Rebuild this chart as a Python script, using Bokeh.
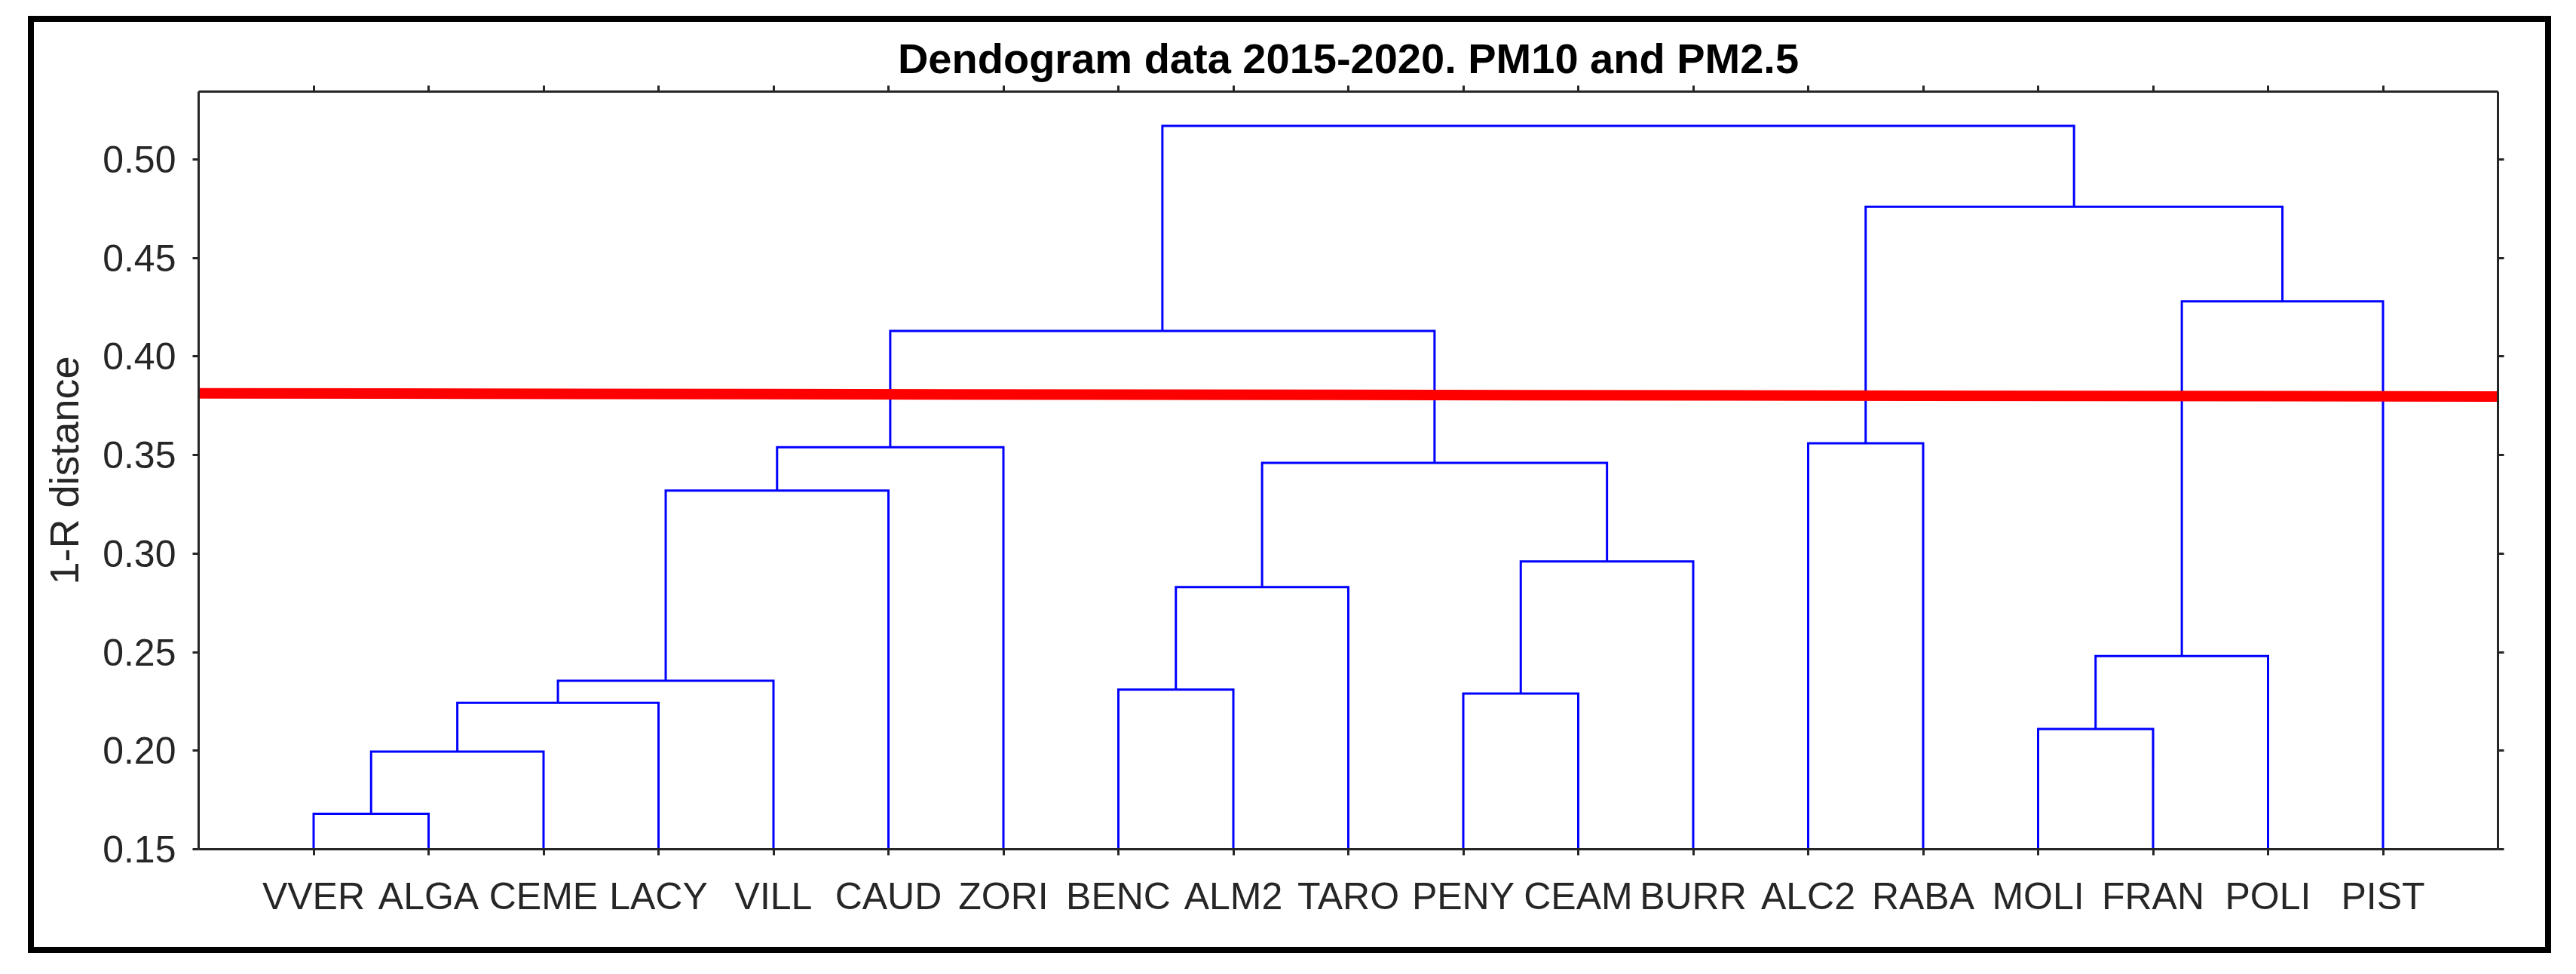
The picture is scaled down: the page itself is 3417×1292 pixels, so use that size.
from bokeh.plotting import figure
from bokeh.models import Range1d, LinearAxis, FixedTicker, PrintfTickFormatter
from bokeh.embed import file_html
from bokeh.resources import INLINE

# ---------------- data ----------------
leaves = ["VVER", "ALGA", "CEME", "LACY", "VILL", "CAUD", "ZORI", "BENC", "ALM2", "TARO",
          "PENY", "CEAM", "BURR", "ALC2", "RABA", "MOLI", "FRAN", "POLI", "PIST"]
# linkage: cluster ids < 19 are leaves, id 19+k is the k-th merge
merge_a = [0, 19, 20, 21, 22, 23, 7, 25, 10, 27, 26, 24, 13, 15, 32, 33, 31, 30]
merge_b = [1, 2, 3, 4, 5, 6, 8, 9, 11, 12, 28, 29, 14, 16, 17, 18, 34, 35]
merge_h = [0.168, 0.1995, 0.2243, 0.2355, 0.332, 0.354, 0.231, 0.283, 0.229, 0.296,
           0.346, 0.413, 0.356, 0.211, 0.248, 0.428, 0.476, 0.517]
y_ticks = [0.15, 0.20, 0.25, 0.30, 0.35, 0.40, 0.45, 0.50]
cut_x = [0, 20]
cut_y = [0.3813, 0.3797]
title_text = "Dendogram data 2015-2020. PM10 and PM2.5"
y_label = "1-R distance"

# ---------------- build dendrogram links ----------------
n = len(leaves)
pos_x = {i: i + 1 for i in range(n)}
pos_h = {i: 0.0 for i in range(n)}
xs, ys = [], []
for k, (a, b, h) in enumerate(zip(merge_a, merge_b, merge_h)):
    xa, xb = pos_x[a], pos_x[b]
    xs.append([xa, xa, xb, xb])
    ys.append([pos_h[a], h, h, pos_h[b]])
    pos_x[n + k] = (xa + xb) / 2.0
    pos_h[n + k] = h

FONT = "Liberation Sans"
AX = "#262626"

p = figure(width=3331, height=1227, x_range=Range1d(0, 20), y_range=Range1d(0.15, 0.5344),
           output_backend="svg", toolbar_location=None,
           min_border_left=218, min_border_right=63, min_border_top=92, min_border_bottom=130,
           margin=(29, 0, 0, 45),
           styles={"outline": "8px solid black", "outline-offset": "0px"})
p.background_fill_color = "white"
p.border_fill_color = "white"
p.outline_line_color = None
p.grid.visible = False

p.multi_line(xs=xs, ys=ys, line_color="#0000FF", line_width=3, line_join="miter")
p.line(x=cut_x, y=cut_y, line_color="#FF0000", line_width=14, line_cap="butt")

bottom_ax = p.below[0]
left_ax = p.left[0]
top_ax = LinearAxis()
right_ax = LinearAxis()
p.add_layout(top_ax, "above")
p.add_layout(right_ax, "right")

def style(ax):
    ax.axis_line_color = AX
    ax.axis_line_width = 3
    ax.major_tick_line_color = AX
    ax.major_tick_line_width = 3
    ax.major_tick_out = 8
    ax.major_tick_in = 0
    ax.minor_tick_line_color = None
    ax.major_label_text_font = FONT
    ax.major_label_text_font_size = "50px"
    ax.major_label_text_color = AX

for ax in [bottom_ax, left_ax, top_ax, right_ax]:
    style(ax)

bottom_ax.ticker = FixedTicker(ticks=list(range(1, n + 1)))
bottom_ax.major_label_overrides = {i + 1: name for i, name in enumerate(leaves)}
bottom_ax.major_label_standoff = 26
top_ax.ticker = FixedTicker(ticks=list(range(1, n + 1)))
top_ax.major_label_text_color = None
top_ax.major_label_standoff = 0

left_ax.ticker = FixedTicker(ticks=y_ticks)
left_ax.formatter = PrintfTickFormatter(format="%.2f")
left_ax.major_label_standoff = 22
left_ax.axis_label = y_label
left_ax.axis_label_text_font = FONT
left_ax.axis_label_text_font_size = "54px"
left_ax.axis_label_text_font_style = "normal"
left_ax.axis_label_text_color = AX
left_ax.axis_label_standoff = 18
right_ax.ticker = FixedTicker(ticks=y_ticks)
right_ax.major_label_text_color = None
right_ax.major_label_standoff = 0

p.title.text = title_text
p.title.text_font = FONT
p.title.text_font_size = "56px"
p.title.text_font_style = "bold"
p.title.text_color = "black"
p.title.align = "center"

open("out.html", "w").write(file_html(p, INLINE))
